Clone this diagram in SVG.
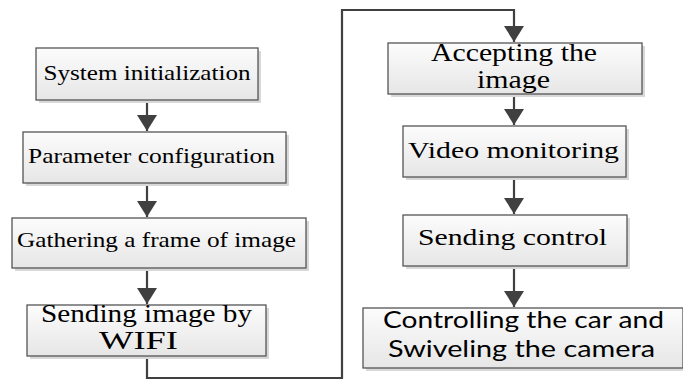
<svg xmlns="http://www.w3.org/2000/svg" width="683" height="380" viewBox="0 0 683 380">
  <defs>
    <linearGradient id="boxFill" x1="0" y1="0" x2="0" y2="1">
      <stop offset="0" stop-color="#fcfcfc"/>
      <stop offset="1" stop-color="#e6e6e6"/>
    </linearGradient>
    <marker id="arrow" viewBox="0 0 16 20" refX="16" refY="10" markerWidth="16" markerHeight="20" orient="auto" markerUnits="userSpaceOnUse">
      <path d="M0 0 L16 10 L0 20 Z" fill="#404040"/>
    </marker>
  </defs>

  <rect width="683" height="380" fill="#fff"/>

  <g id="connectors" fill="none" stroke="#404040" stroke-width="2.2" marker-end="url(#arrow)">
    <path d="M147 100 V131"/>
    <path d="M147 183 V217"/>
    <path d="M147 268 V304"/>
    <path d="M147 356 V378 H342 V10 H514 V42"/>
    <path d="M514 94 V125"/>
    <path d="M514 177 V214"/>
    <path d="M514 266 V307"/>
  </g>

  <!-- serif labelled steps -->
  <g id="system-init">
    <rect x="39" y="51" width="222" height="52" fill="#d8d8d8"/>
    <rect x="36" y="48" width="222" height="52" fill="url(#boxFill)" stroke="#555" stroke-width="1.3"/>
    <text x="147" y="80" font-family="Liberation Serif" font-size="22" text-anchor="middle" textLength="207" lengthAdjust="spacingAndGlyphs">System initialization</text>
  </g>

  <g id="param-config">
    <rect x="26" y="135" width="263" height="51" fill="#d8d8d8"/>
    <rect x="23" y="132" width="263" height="51" fill="url(#boxFill)" stroke="#555" stroke-width="1.3"/>
    <text x="151.5" y="163" font-family="Liberation Serif" font-size="22" text-anchor="middle" textLength="247" lengthAdjust="spacingAndGlyphs">Parameter configuration</text>
  </g>

  <g id="gather-frame">
    <rect x="15" y="221" width="294" height="50" fill="#d8d8d8"/>
    <rect x="12" y="218" width="294" height="50" fill="url(#boxFill)" stroke="#555" stroke-width="1.3"/>
    <text x="156.5" y="247" font-family="Liberation Serif" font-size="22" text-anchor="middle" textLength="279" lengthAdjust="spacingAndGlyphs">Gathering a frame of image</text>
  </g>

  <g id="send-image">
    <rect x="30" y="308" width="239" height="51" fill="#d8d8d8"/>
    <rect x="27" y="305" width="239" height="51" fill="url(#boxFill)" stroke="#555" stroke-width="1.3"/>
    <text x="146.5" y="322" font-family="Liberation Serif" font-size="25" text-anchor="middle" textLength="211" lengthAdjust="spacingAndGlyphs">Sending image by</text>
    <text x="138.5" y="349" font-family="Liberation Serif" font-size="25" text-anchor="middle" textLength="79" lengthAdjust="spacingAndGlyphs">WIFI</text>
  </g>

  <g id="accept-image">
    <rect x="391" y="46" width="254" height="51" fill="#d8d8d8"/>
    <rect x="388" y="43" width="254" height="51" fill="url(#boxFill)" stroke="#555" stroke-width="1.3"/>
    <text x="514" y="61" font-family="Liberation Serif" font-size="25" text-anchor="middle" textLength="166" lengthAdjust="spacingAndGlyphs">Accepting the</text>
    <text x="513.5" y="88" font-family="Liberation Serif" font-size="25" text-anchor="middle" textLength="73" lengthAdjust="spacingAndGlyphs">image</text>
  </g>

  <g id="video-monitor">
    <rect x="406" y="129" width="223" height="51" fill="#d8d8d8"/>
    <rect x="403" y="126" width="223" height="51" fill="url(#boxFill)" stroke="#555" stroke-width="1.3"/>
    <text x="513.5" y="158" font-family="Liberation Serif" font-size="24" text-anchor="middle" textLength="211" lengthAdjust="spacingAndGlyphs">Video monitoring</text>
  </g>

  <g id="send-control">
    <rect x="406" y="218" width="224" height="51" fill="#d8d8d8"/>
    <rect x="403" y="215" width="224" height="51" fill="url(#boxFill)" stroke="#555" stroke-width="1.3"/>
    <text x="512.5" y="245" font-family="Liberation Serif" font-size="24" text-anchor="middle" textLength="189" lengthAdjust="spacingAndGlyphs">Sending control</text>
  </g>

  <!-- final step, sans label -->
  <g id="control-car">
    <rect x="366" y="311" width="320" height="60" fill="#d8d8d8"/>
    <rect x="363" y="308" width="320" height="60" fill="url(#boxFill)" stroke="#555" stroke-width="1.3"/>
    <text x="523.5" y="328" font-family="Lato" font-size="24" text-anchor="middle" textLength="281" lengthAdjust="spacingAndGlyphs">Controlling the car and</text>
    <text x="521.5" y="357" font-family="Lato" font-size="24" text-anchor="middle" textLength="267" lengthAdjust="spacingAndGlyphs">Swiveling the camera</text>
  </g>
</svg>
